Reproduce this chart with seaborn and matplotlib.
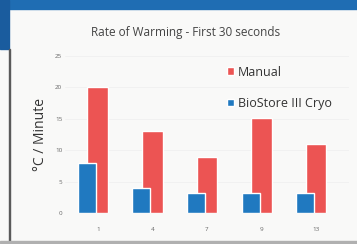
import matplotlib
matplotlib.use('Agg')
import matplotlib.pyplot as plt
from matplotlib.patches import Rectangle
import seaborn as sns
import numpy as np

sns.set_style('white')
plt.rcParams['font.family'] = ['Open Sans', 'DejaVu Sans']

# Data
groups = ['1', '4', '7', '9', '13']
manual = [20, 13, 9, 15.2, 11]
biostore = [8, 4, 3.2, 3.2, 3.2]
y_ticks = [0, 5, 10, 15, 20, 25]

red = '#EC5453'
blue = '#2079C0'

fig = plt.figure(figsize=(3.57, 2.44), dpi=100)
fig.patch.set_facecolor('#F9F9F8')

# Slide frame: blue band on top, dark edge on the left, line at the bottom
fig.patches.append(Rectangle((0, 0.965), 1, 0.035, transform=fig.transFigure, color='#1F6DB3', zorder=0))
fig.patches.append(Rectangle((0, 0.80), 0.026, 0.2, transform=fig.transFigure, color='#1A5C9E', zorder=0))
fig.patches.append(Rectangle((0.024, 0), 0.005, 0.8, transform=fig.transFigure, color='#5A5A5A', zorder=0))
fig.patches.append(Rectangle((0, 0.006), 1, 0.006, transform=fig.transFigure, color='#B0B0B0', zorder=0))

ax = fig.add_axes([0.182, 0.127, 0.795, 0.643])
ax.set_facecolor('#F9F9F8')

x = np.arange(len(groups))
ax.bar(x, manual, width=0.38, color=red, label='Manual', zorder=2)
ax.bar(x - 0.2, biostore, width=0.33, color=blue, label='BioStore III Cryo', zorder=3)

ax.set_xlim(-0.6, 4.6)
ax.set_ylim(0, 25)
ax.set_yticks(y_ticks)
ax.set_yticklabels([str(t) for t in y_ticks], fontsize=4.5, color='#666666')
ax.set_xticks(x)
ax.set_xticklabels(groups, fontsize=4.5, color='#666666')
ax.tick_params(axis='y', length=0, pad=2)
ax.tick_params(axis='x', length=0, pad=10)
ax.yaxis.grid(True, color='#EEEEEE', linewidth=0.5, zorder=0)
sns.despine(ax=ax, left=True, bottom=True)

ax.set_ylabel('°C / Minute', fontsize=10, color='#333333', labelpad=5)
fig.text(0.52, 0.865, 'Rate of Warming - First 30 seconds', ha='center', va='center',
         fontsize=8.5, color='#444444')

leg = ax.legend(loc='upper left', bbox_to_anchor=(0.53, 1.01), frameon=False,
                fontsize=9, handlelength=0.6, handleheight=0.6, handletextpad=0.3,
                labelspacing=1.45)
for t in leg.get_texts():
    t.set_color('#333333')
    t.set_fontweight('medium')

fig.savefig('out.png', dpi=100, facecolor=fig.get_facecolor())
